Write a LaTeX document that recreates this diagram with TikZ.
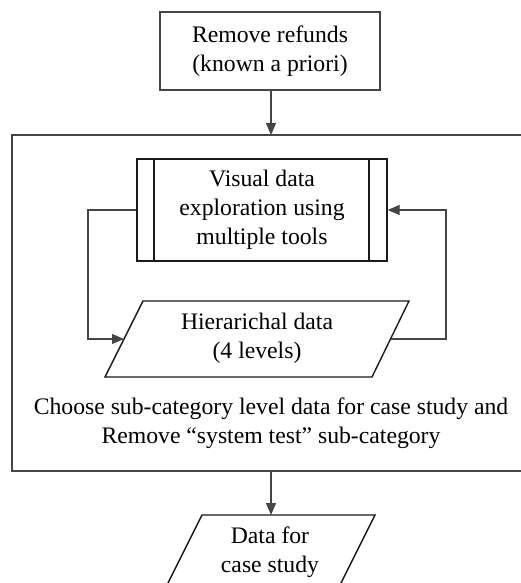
\documentclass[tikz,border=0pt]{standalone}
\usepackage{fontspec}
\setmainfont{Liberation Serif}
\usetikzlibrary{arrows.meta}
\definecolor{linegray}{HTML}{454545}
\definecolor{shapeblk}{HTML}{1A1A1A}
\begin{document}
\begin{tikzpicture}[x=1pt,y=-1pt,
  txt/.style={font=\fontsize{23.7}{29}\selectfont, align=center, inner sep=0pt},
  shapeline/.style={draw=shapeblk, line width=1.4pt},
  conn/.style={draw=linegray, line width=1.3pt, -{Triangle[length=12pt,width=10pt]}},
  connplain/.style={draw=linegray, line width=1.3pt}]
\useasboundingbox (0,0) rectangle (520,583);
\fill[white] (0,0) rectangle (520,583);
% top box
\node[shapeline, draw=linegray, minimum width=220pt, minimum height=78pt, txt] (top) at (270,51) {Remove refunds\\(known a priori)};
% big container
\draw[connplain] (12,135) rectangle (524,471);
\coordinate (bigtop) at (271,135);
\coordinate (bigbot) at (271,471);
% visual box (predefined process)
\node[shapeline, minimum width=250pt, minimum height=102pt, txt] (vis) at (262,210) {Visual data\\exploration using\\multiple tools};
\draw[shapeline] (154,159) -- (154,261) (369,159) -- (369,261);
% hierarchical parallelogram
\draw[shapeline] (143,301) -- (409,301) -- (372,377) -- (105,377) -- cycle;
\node[txt] (hier) at (257,338) {Hierarichal data\\(4 levels)};
\coordinate (hierL) at (124,339);
\coordinate (hierR) at (390.5,339);
% caption
\node[txt] (cap) at (271,423) {Choose sub-category level data for case study and\\Remove “system test” sub-category};
% bottom parallelogram
\draw[shapeline] (202,515) -- (375,515) -- (337,591) -- (164,591) -- cycle;
\node[txt] (data) at (270,552) {Data for\\case study};
\coordinate (datatop) at (271,515);
% connectors
\draw[conn] (top.south -| bigtop) -- (bigtop);
\draw[conn] (vis.west) -- (88,210) -- (88,339) -- (hierL);
\draw[conn] (hierR) -- (446,339) -- (446,210) -- (vis.east);
\draw[conn] (bigbot) -- (datatop);
\end{tikzpicture}
\end{document}
